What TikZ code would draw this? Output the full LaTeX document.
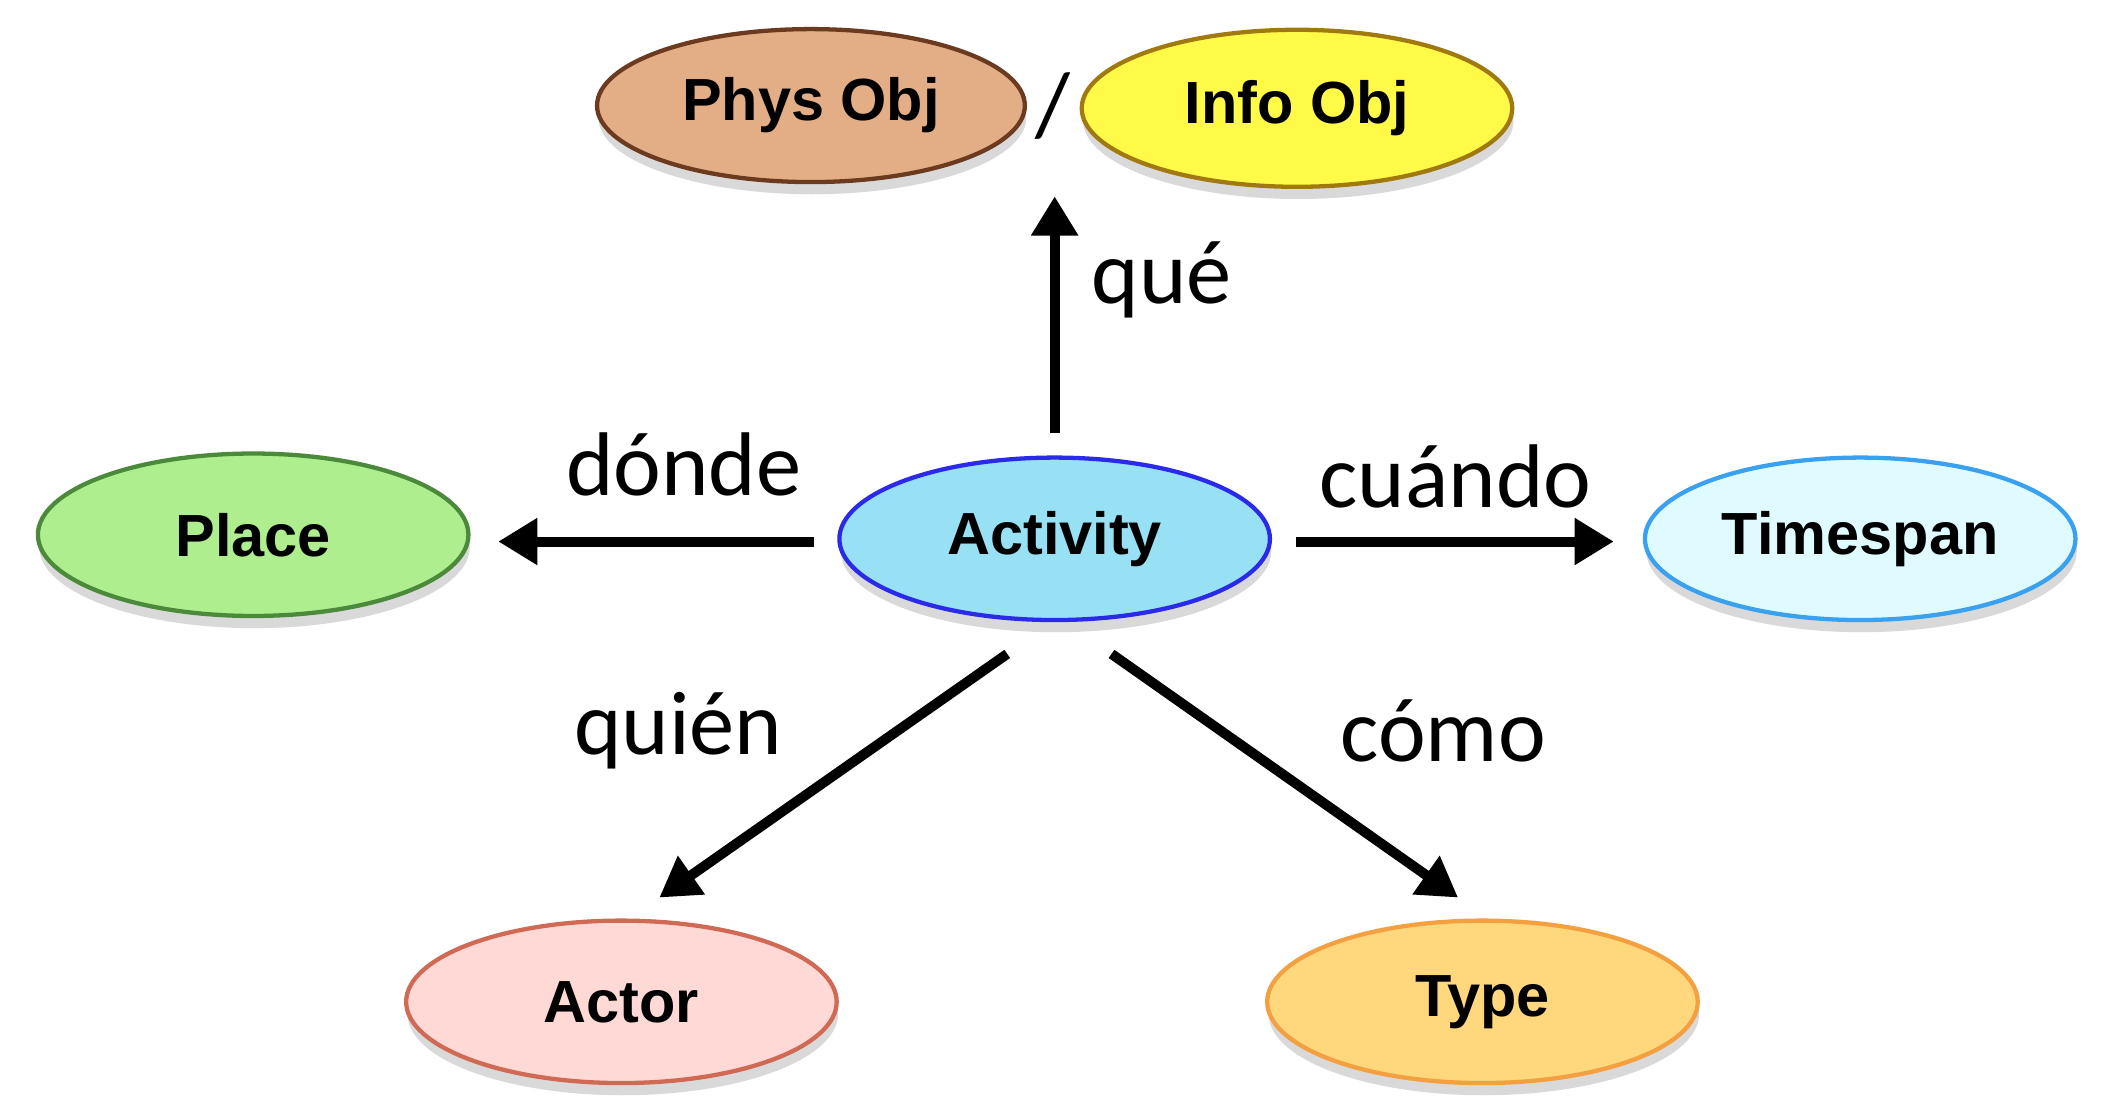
\documentclass[tikz,border=0pt]{standalone}
\usepackage{fontspec}
\setmainfont{Liberation Sans}
\newfontfamily\labfont{Carlito}
\usetikzlibrary{shapes.geometric,arrows.meta,calc,shadows}
\begin{document}
\begin{tikzpicture}[x=0.1mm,y=-0.1mm,
  obj/.style={ellipse, draw, line width=0.9pt, inner sep=0pt, minimum width=31.8mm, minimum height=12mm,
    font=\fontsize{12.5}{15}\selectfont\bfseries,
    drop shadow={shadow xshift=0.1mm, shadow yshift=-0.9mm, opacity=0.15, fill=black}},
  lab/.style={font=\labfont\fontsize{19}{23}\selectfont, inner sep=0pt},
  arr/.style={line width=2.1pt, -{Triangle[length=2.9mm,width=3.3mm]}}]
\useasboundingbox (0,0) rectangle (1560,826);
\definecolor{physF}{HTML}{E3AD85}\definecolor{physD}{HTML}{6B3A1F}
\definecolor{infoF}{HTML}{FFF947}\definecolor{infoD}{HTML}{A07A10}
\definecolor{placeF}{HTML}{AEEE8F}\definecolor{placeD}{HTML}{4A8A3A}
\definecolor{actF}{HTML}{98E1F5}\definecolor{actD}{HTML}{2A2AE8}
\definecolor{timeF}{HTML}{E0FBFF}\definecolor{timeD}{HTML}{3AA0F0}
\definecolor{actorF}{HTML}{FFD9D6}\definecolor{actorD}{HTML}{D06A55}
\definecolor{typeF}{HTML}{FFD77C}\definecolor{typeD}{HTML}{F5A040}

\node[obj, fill=physF, draw=physD, minimum width=31.6mm, minimum height=11.3mm] (phys) at (599,78) {Phys Obj};
\node[obj, fill=infoF, draw=infoD, minimum height=11.6mm] (info) at (958,80) {Info Obj};
\node[lab] (slash) at (778,78) {/};
\node[obj, fill=placeF, draw=placeD] (place) at (187,395) {Place};
\node[obj, fill=actF, draw=actD] (act) at (779,398) {Activity};
\node[obj, fill=timeF, draw=timeD] (time) at (1374,398) {Timespan};
\node[obj, fill=actorF, draw=actorD] (actor) at (459,740) {Actor};
\node[obj, fill=typeF, draw=typeD] (type) at (1095,740) {Type};

\draw[arr] ($(act)+(0,-78)$) -- ($(slash)+(1,67)$);
\draw[arr] ($(act)+(-178,2)$) -- ($(place)+(181,5)$);
\draw[arr] ($(act)+(178,2)$) -- ($(time)+(-182,2)$);
\draw[arr] ($(act)+(-35,85)$) -- ($(actor)+(28,-77)$);
\draw[arr] ($(act)+(42,85)$) -- ($(type)+(-18,-77)$);

\node[lab] (que) at (858,207) {qué};
\node[lab] (donde) at (505,343) {dónde};
\node[lab] (cuando) at (1075,352) {cuándo};
\node[lab] (quien) at (501,540) {quién};
\node[lab] (como) at (1066,540) {cómo};
\end{tikzpicture}
\end{document}
